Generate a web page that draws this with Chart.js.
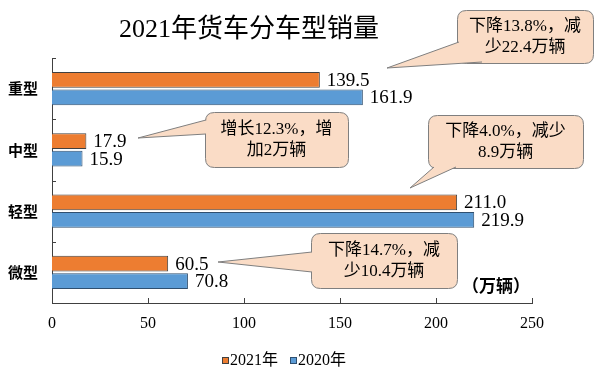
<!DOCTYPE html>
<html>
<head>
<meta charset="utf-8">
<script src="https://cdn.jsdelivr.net/npm/chart.js@4/dist/chart.umd.min.js"></script>
<style>
  html, body { margin: 0; padding: 0; background: #fff; }
  #wrap { width: 600px; height: 374px; position: relative; }
</style>
</head>
<body>
<div id="wrap"><canvas id="truckChart" width="600" height="374"></canvas></div>
<script>
// 2021年货车分车型销量 data
const categories = ['重型', '中型', '轻型', '微型'];
const seriesNames = ['2021年', '2020年'];
const sales2021 = [139.5, 17.9, 211.0, 60.5];
const sales2020 = [161.9, 15.9, 219.9, 70.8];
const xTicks = [0, 50, 100, 150, 200, 250];
const calloutTexts = [
    ['下降13.8%，减', '少22.4万辆'],
    ['增长12.3%，增', '加2万辆'],
    ['下降4.0%，减少', '8.9万辆'],
    ['下降14.7%，减', '少10.4万辆']
];

const serif = "'Liberation Serif', 'Noto Sans CJK SC', serif";
const cjk = "'Noto Sans CJK SC', sans-serif";
const axisColor = '#404040';

// callout boxes: box rect, pointer base points, tip
const callouts = [
    { box: [457, 10, 136, 53], base: [[459, 42], [482, 62]], tip: [387, 68] },
    { box: [205, 112, 143, 55], base: [[206, 120], [206, 134]], tip: [138, 138] },
    { box: [428, 115, 155, 53], base: [[434, 167], [456, 167]], tip: [410, 188] },
    { box: [311, 233, 146, 55], base: [[312, 252], [312, 272]], tip: [218, 262] }
];

function roundRect(ctx, x, y, w, h, r) {
    ctx.beginPath();
    ctx.moveTo(x + r, y);
    ctx.lineTo(x + w - r, y);
    ctx.quadraticCurveTo(x + w, y, x + w, y + r);
    ctx.lineTo(x + w, y + h - r);
    ctx.quadraticCurveTo(x + w, y + h, x + w - r, y + h);
    ctx.lineTo(x + r, y + h);
    ctx.quadraticCurveTo(x, y + h, x, y + h - r);
    ctx.lineTo(x, y + r);
    ctx.quadraticCurveTo(x, y, x + r, y);
    ctx.closePath();
}

const decorPlugin = {
    id: 'decor',
    afterDraw(chart) {
        const ctx = chart.ctx;
        const xs = chart.scales.x;
        const area = chart.chartArea;
        ctx.save();

        // inside tick marks
        ctx.strokeStyle = axisColor;
        ctx.lineWidth = 1;
        ctx.beginPath();
        xs.ticks.forEach(t => {
            const px = Math.round(xs.getPixelForValue(t.value)) + 0.5;
            ctx.moveTo(px, area.bottom);
            ctx.lineTo(px, area.bottom - 5);
        });
        const step = (area.bottom - area.top) / categories.length;
        for (let i = 0; i <= categories.length; i++) {
            const py = Math.round(area.top + i * step) + 0.5;
            ctx.moveTo(area.left, py);
            ctx.lineTo(area.left + 4, py);
        }
        ctx.stroke();

        // value labels
        ctx.fillStyle = '#000';
        ctx.font = '19px ' + serif;
        ctx.textAlign = 'left';
        ctx.textBaseline = 'middle';
        chart.data.datasets.forEach((ds, di) => {
            chart.getDatasetMeta(di).data.forEach((bar, i) => {
                ctx.fillText(ds.data[i].toFixed(1), bar.x + 7, bar.y + 1);
            });
        });

        // title
        ctx.font = '26px ' + serif;
        ctx.textAlign = 'center';
        ctx.fillText('2021年货车分车型销量', 249, 30);

        // unit
        ctx.font = 'bold 17px ' + cjk;
        ctx.fillText('（万辆）', 496, 286);

        // callouts
        callouts.forEach((c, k) => {
            const [bx, by, bw, bh] = c.box;
            ctx.fillStyle = '#FADCC6';
            ctx.strokeStyle = '#7F7F7F';
            ctx.lineWidth = 1;
            roundRect(ctx, bx + 0.5, by + 0.5, bw, bh, 9);
            ctx.fill();
            ctx.stroke();
            ctx.beginPath();
            ctx.moveTo(c.base[0][0], c.base[0][1]);
            ctx.lineTo(c.tip[0], c.tip[1]);
            ctx.lineTo(c.base[1][0], c.base[1][1]);
            ctx.closePath();
            ctx.fill();
            ctx.beginPath();
            ctx.moveTo(c.base[0][0], c.base[0][1]);
            ctx.lineTo(c.tip[0], c.tip[1]);
            ctx.lineTo(c.base[1][0], c.base[1][1]);
            ctx.stroke();
            ctx.fillStyle = '#000';
            ctx.font = '17px ' + serif;
            ctx.textAlign = 'center';
            calloutTexts[k].forEach((line, li) => {
                ctx.fillText(line, bx + bw / 2, by + bh / 2 - 10 + li * 21);
            });
        });

        // legend
        ctx.font = '16px ' + serif;
        ctx.textAlign = 'left';
        let lx = 222;
        const ly = 361;
        chart.data.datasets.forEach(ds => {
            ctx.fillStyle = ds.backgroundColor;
            ctx.fillRect(lx, ly - 4, 7, 7);
            ctx.strokeStyle = ds.borderColor;
            ctx.strokeRect(lx + 0.5, ly - 3.5, 6, 6);
            ctx.fillStyle = '#000';
            ctx.fillText(ds.label, lx + 8, ly);
            lx += ctx.measureText(ds.label).width + 20;
        });
        ctx.restore();
    }
};

new Chart(document.getElementById('truckChart'), {
    type: 'bar',
    data: {
        labels: categories,
        datasets: [
            {
                label: seriesNames[0],
                data: sales2021,
                backgroundColor: '#ED7D31',
                borderColor: '#404040',
                borderWidth: 1,
                categoryPercentage: 0.57,
                barPercentage: 0.9
            },
            {
                label: seriesNames[1],
                data: sales2020,
                backgroundColor: '#5B9BD5',
                borderColor: '#2F4F6F',
                borderWidth: 1,
                categoryPercentage: 0.57,
                barPercentage: 0.9
            }
        ]
    },
    options: {
        indexAxis: 'y',
        responsive: false,
        animation: false,
        layout: {
            padding: { top: 58, right: 68, bottom: 41, left: 0 }
        },
        plugins: {
            legend: { display: false },
            tooltip: { enabled: false }
        },
        scales: {
            x: {
                min: 0,
                max: 250,
                afterBuildTicks: scale => {
                    scale.ticks = xTicks.map(v => ({ value: v }));
                },
                grid: { display: false, drawTicks: false },
                border: { display: true, color: axisColor },
                ticks: {
                    color: '#000',
                    font: { family: serif, size: 16 },
                    padding: 11,
                    maxRotation: 0
                },
                afterFit: scale => { scale.height = 30; }
            },
            y: {
                grid: { display: false, drawTicks: false },
                border: { display: true, color: axisColor },
                ticks: {
                    color: '#000',
                    font: { family: cjk, size: 15, weight: 'bold' },
                    padding: 14
                },
                afterFit: scale => { scale.width = 52; }
            }
        }
    },
    plugins: [decorPlugin]
});
</script>
</body>
</html>
